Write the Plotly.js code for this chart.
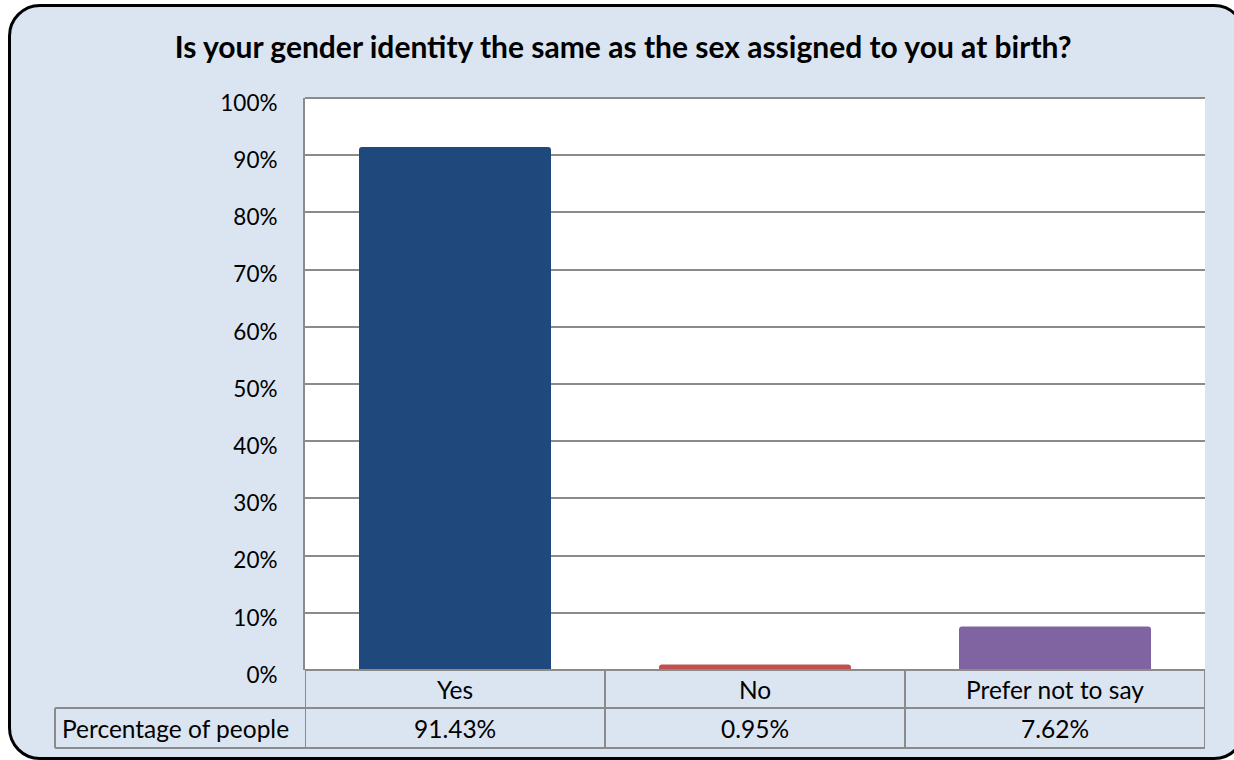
<!DOCTYPE html>
<html>
<head>
<meta charset="utf-8">
<script src="https://cdn.plot.ly/plotly-3.0.1.min.js"></script>
<style>
  html, body { margin: 0; padding: 0; background: #ffffff; overflow: hidden; }
  #frame {
    position: absolute; left: 8px; top: 4px;
    width: 1238px; height: 756px;
    border: 3px solid #000000; border-radius: 32px;
    background: #dbe5f1; box-sizing: border-box;
  }
  #chart { position: absolute; left: 0; top: 0; width: 1234px; height: 760px; }
</style>
</head>
<body>
<div id="frame"></div>
<div id="chart"></div>
<script>
// Survey answers and their shares
const categories = ["Yes", "No", "Prefer not to say"];
const shares = [0.9143, 0.0095, 0.0762];
const shareLabels = ["91.43%", "0.95%", "7.62%"];
const seriesName = "Percentage of people";
const barColors = ["#1f497d", "#c0504d", "#8064a2"];

const W = 1234, H = 760;
const M = { l: 305, r: 29, t: 98, b: 90 };
const plotW = W - M.l - M.r, plotH = H - M.t - M.b;
// pixel offsets below the plot, expressed in paper units
const py = px => -px / plotH;
const pxX = px => (px - M.l) / plotW;

const fontFam = "Lato, 'Open Sans', sans-serif";
const gridCol = "#8b8b8b";

const xIdx = categories.map((c, i) => i);

const trace = {
  type: "bar",
  x: xIdx,
  y: shares,
  width: 0.64,
  marker: { color: barColors, cornerradius: 3, line: { width: 0 } },
  hoverinfo: "x+y",
  showlegend: false
};

// data table under the plot: category row + value row
const rowTop = 0, rowMid = py(38), rowBot = py(78);
const shapes = [];
const lineStyle = { color: gridCol, width: 2 };
// top border of the plot area
shapes.push({ type: "line", xref: "paper", yref: "paper", x0: 0, x1: 1, y0: 1, y1: 1, line: lineStyle });
// horizontal rules
shapes.push({ type: "line", xref: "paper", yref: "paper", x0: 0, x1: 1, y0: rowTop, y1: rowTop, line: lineStyle });
shapes.push({ type: "line", xref: "paper", yref: "paper", x0: pxX(55), x1: 1, y0: rowMid, y1: rowMid, line: lineStyle });
shapes.push({ type: "line", xref: "paper", yref: "paper", x0: pxX(55), x1: 1, y0: rowBot, y1: rowBot, line: lineStyle });
// vertical rules at category boundaries
for (let i = 0; i <= categories.length; i++) {
  shapes.push({ type: "line", xref: "x", yref: "paper", x0: i - 0.5, x1: i - 0.5, y0: rowTop, y1: rowBot, line: lineStyle });
}
shapes.push({ type: "line", xref: "paper", yref: "paper", x0: pxX(55), x1: pxX(55), y0: rowMid, y1: rowBot, line: lineStyle });

const cellFont = { family: fontFam, size: 24.5, color: "#000" };
const annotations = [];
categories.forEach((c, i) => {
  annotations.push({ xref: "x", yref: "paper", x: i, y: (rowTop + rowMid) / 2, text: c, showarrow: false,
    xanchor: "center", yanchor: "middle", font: cellFont });
  annotations.push({ xref: "x", yref: "paper", x: i, y: (rowMid + rowBot) / 2, text: shareLabels[i], showarrow: false,
    xanchor: "center", yanchor: "middle", font: cellFont });
});
annotations.push({ xref: "paper", yref: "paper", x: pxX(60), y: (rowMid + rowBot) / 2, text: seriesName, showarrow: false,
  xanchor: "left", yanchor: "middle", font: cellFont });

const layout = {
  width: W, height: H,
  margin: M,
  paper_bgcolor: "rgba(0,0,0,0)",
  plot_bgcolor: "#ffffff",
  title: {
    text: "<b>Is your gender identity the same as the sex assigned to you at birth?</b>",
    xref: "container", x: 0.505, xanchor: "center",
    yref: "container", y: 1 - 47 / H, yanchor: "middle",
    font: { family: fontFam, size: 30, color: "#000" }
  },
  xaxis: {
    range: [-0.5, 2.5],
    tickvals: xIdx, showticklabels: false, ticks: "",
    showgrid: false, zeroline: false, showline: false, fixedrange: true
  },
  yaxis: {
    range: [0, 1], dtick: 0.1, tick0: 0, tickformat: ".0%",
    showgrid: true, gridcolor: gridCol, gridwidth: 2,
    zeroline: false, showline: true, linecolor: gridCol, linewidth: 2,
    ticks: "", ticklabelstandoff: 21, ticklabelshift: 5,
    tickfont: { family: fontFam, size: 22.5, color: "#000" },
    fixedrange: true
  },
  shapes: shapes,
  annotations: annotations
};

Plotly.newPlot("chart", [trace], layout, { displayModeBar: false, staticPlot: true });
</script>
</body>
</html>
